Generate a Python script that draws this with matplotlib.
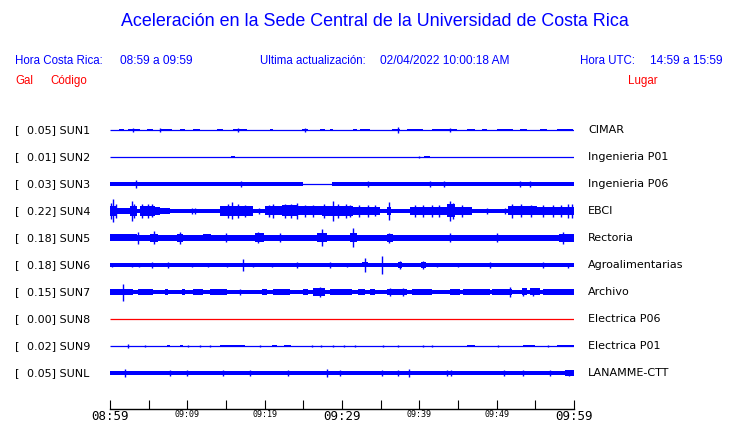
import matplotlib
matplotlib.use("Agg")
import matplotlib.pyplot as plt

# Estaciones (de arriba hacia abajo)
codes = ["SUN1", "SUN2", "SUN3", "SUN4", "SUN5", "SUN6", "SUN7", "SUN8", "SUN9", "SUNL"]
gal = [0.05, 0.01, 0.03, 0.22, 0.18, 0.18, 0.15, 0.00, 0.02, 0.05]
places = ["CIMAR", "Ingenieria P01", "Ingenieria P06", "EBCI", "Rectoria",
          "Agroalimentarias", "Archivo", "Electrica P06", "Electrica P01", "LANAMME-CTT"]
trace_colors = ["blue"] * 7 + ["red"] + ["blue"] * 2

# semi-amplitud de fondo (px) de cada traza
base_amp = [0.6, 0.5, 2.0, 2.0, 2.8, 1.7, 2.0, 0.5, 0.6, 2.1]

# tiempo en minutos desde las 08:59
tick_minutes = [0, 5, 10, 15, 20, 25, 30, 35, 40, 45, 50, 55, 60]
tick_labels = ["08:59", "", "09:09", "", "09:19", "", "09:29", "", "09:39", "", "09:49", "", "09:59"]

# rafagas (inicio_min, fin_min, semi-amplitud px) y picos (min, semi-amplitud px)
sun1_bursts = [(1.2, 1.8, 1.1), (2.3, 3.9, 1.2), (4.8, 5.6, 1.1), (6.5, 8.0, 1.2), (9.1, 9.7, 1.1),
               (10.7, 11.6, 1.1), (13.8, 14.6, 1.3), (15.9, 17.7, 1.3), (20.7, 21.1, 1.1),
               (24.8, 25.6, 1.2), (27.2, 27.8, 1.1), (28.4, 28.8, 1.1), (31.4, 31.9, 1.1),
               (32.3, 33.6, 1.1), (36.5, 37.5, 1.2), (38.4, 40.5, 1.1), (41.6, 44.9, 1.2),
               (46.2, 47.2, 1.1), (48.1, 48.7, 1.1), (50.0, 52.1, 1.2), (53.0, 53.9, 1.1),
               (55.6, 56.5, 1.1), (57.8, 59.9, 1.2)]
sun1_spikes = [(6.5, 1.8), (37.2, 3.2), (16.5, 1.8), (44.0, 1.6), (3.0, 1.6), (25.2, 1.6)]

sun2_bursts = [(15.7, 16.1, 1.3), (40.6, 41.4, 0.9)]
sun2_spikes = [(40.0, 1.0)]

sun3_gap = (25.0, 28.7)
sun3_bursts = []
sun3_spikes = [(3.4, 3.8), (16.9, 2.6), (33.4, 2.6), (41.4, 3.2), (43.2, 3.2), (53.0, 2.8), (54.3, 2.8)]

sun4_bursts = [(0.0, 0.9, 5.0), (0.9, 2.6, 3.0), (2.6, 3.5, 5.0), (3.9, 5.8, 5.0), (5.8, 6.5, 4.0),
               (6.5, 7.8, 2.8), (14.2, 18.5, 5.0), (20.0, 22.2, 4.5), (22.2, 24.3, 5.5),
               (24.3, 27.4, 4.5), (27.4, 31.4, 5.0), (31.4, 34.9, 4.0), (35.8, 36.4, 4.0),
               (38.8, 43.6, 4.0), (43.6, 44.6, 6.5), (44.6, 46.8, 4.0), (51.5, 55.2, 4.5),
               (55.2, 60.0, 4.0)]
sun4_spikes = [(0.1, 8.0), (0.4, 11.5), (0.8, 7.0), (2.8, 10.0), (3.1, 7.0), (4.2, 7.0), (4.9, 7.0),
               (5.4, 6.5), (10.6, 3.0), (11.0, 3.0), (15.3, 7.0), (15.8, 8.5), (16.5, 7.0),
               (17.4, 6.0), (19.3, 3.0), (20.6, 6.0), (21.1, 7.0), (22.6, 7.0), (23.4, 7.0),
               (24.2, 8.0), (25.2, 6.0), (26.3, 6.0), (27.7, 7.0), (28.8, 10.0), (29.5, 7.0),
               (30.5, 7.0), (31.0, 6.0), (32.2, 6.0), (33.4, 6.0), (34.3, 5.5), (36.1, 9.0),
               (39.5, 6.0), (40.5, 6.0), (41.6, 6.0), (42.6, 6.0), (44.0, 10.0), (44.3, 8.0),
               (45.5, 6.0), (48.7, 3.0), (51.1, 3.0), (52.0, 7.0), (53.2, 6.5), (54.4, 6.0),
               (56.0, 6.0), (57.3, 6.0), (58.3, 6.0), (59.2, 7.0), (59.8, 7.0)]

sun5_bursts = [(0.0, 3.5, 3.5), (5.2, 6.2, 4.0), (8.6, 9.5, 4.0), (12.0, 13.0, 3.5),
               (18.7, 19.9, 4.5), (26.8, 28.0, 4.5), (31.0, 32.0, 4.5), (35.8, 36.6, 4.0),
               (58.0, 60.0, 4.0)]
sun5_spikes = [(3.6, 6.0), (5.7, 6.5), (9.0, 6.0), (15.0, 4.5), (19.1, 5.5), (22.0, 4.5),
               (27.4, 8.5), (31.4, 9.5), (36.1, 5.0), (44.0, 4.5), (50.0, 4.5), (58.6, 6.0)]

sun6_bursts = [(2.2, 2.6, 2.4), (10.5, 11.0, 2.4), (32.6, 33.3, 2.5), (37.3, 37.8, 2.6),
               (40.2, 40.8, 2.6), (45.6, 46.0, 2.3), (49.0, 49.4, 2.4), (58.0, 59.9, 2.4)]
sun6_spikes = [(0.2, 2.2), (2.8, 2.2), (3.8, 2.2), (5.4, 3.2), (7.5, 3.2), (10.6, 2.2),
               (12.7, 2.2), (15.1, 2.2), (17.2, 5.7), (18.5, 2.2), (20.9, 2.2), (24.2, 3.2),
               (28.4, 3.2), (30.6, 2.2), (33.0, 7.0), (35.2, 9.0), (37.5, 4.0), (40.5, 4.0),
               (42.3, 2.2), (45.0, 2.2), (49.1, 3.0), (56.0, 3.0), (59.2, 2.5)]

sun7_bursts = [(0.0, 3.0, 3.0), (3.6, 5.6, 3.0), (7.1, 7.5, 3.0), (9.3, 9.7, 3.0),
               (10.7, 12.0, 3.0), (12.9, 15.1, 3.0), (19.6, 20.3, 3.0), (21.1, 23.3, 3.0),
               (25.0, 25.6, 3.0), (26.2, 27.8, 4.0), (28.4, 30.4, 3.0), (30.4, 31.3, 2.8),
               (32.1, 33.0, 3.0), (33.6, 34.3, 3.0), (35.8, 38.4, 3.0), (39.0, 41.6, 3.0),
               (44.0, 45.3, 3.0), (45.6, 49.1, 3.0), (49.4, 52.0, 3.0), (53.3, 53.9, 3.5),
               (54.3, 55.6, 3.5), (56.0, 60.0, 3.0)]
sun7_spikes = [(1.7, 8.5), (27.2, 5.0), (16.8, 3.0), (36.2, 4.0), (37.9, 4.0), (51.7, 5.0),
               (53.4, 4.0), (54.7, 4.0)]

sun8_bursts = []
sun8_spikes = []

sun9_bursts = [(7.4, 7.8, 1.4), (9.0, 9.4, 1.3), (14.2, 17.5, 1.3), (20.9, 21.6, 1.3),
               (22.5, 23.4, 1.2), (46.2, 47.2, 1.4), (53.4, 55.0, 1.3), (57.8, 60.0, 1.4)]
sun9_spikes = [(2.3, 1.6), (4.5, 1.2), (10.1, 1.3), (11.6, 1.3), (12.9, 1.3), (19.4, 1.3),
               (26.1, 1.3), (27.3, 1.3), (28.9, 1.2), (30.2, 1.2), (31.7, 1.2), (35.3, 1.3),
               (37.2, 1.3), (40.5, 1.4), (41.7, 1.3), (50.2, 1.2), (56.7, 1.3)]

sunl_bursts = [(58.8, 60.0, 3.0)]
sunl_spikes = [(1.9, 4.0), (7.8, 2.6), (10.0, 2.6), (14.6, 2.6), (18.1, 2.6), (23.0, 2.6),
               (28.1, 3.6), (29.7, 2.6), (35.2, 2.6), (37.2, 2.6), (38.7, 3.6), (43.6, 2.6),
               (44.1, 2.6), (51.0, 2.6), (53.4, 2.6), (56.9, 2.6), (59.4, 3.0)]

bursts = [sun1_bursts, sun2_bursts, sun3_bursts, sun4_bursts, sun5_bursts,
          sun6_bursts, sun7_bursts, sun8_bursts, sun9_bursts, sunl_bursts]
spikes = [sun1_spikes, sun2_spikes, sun3_spikes, sun4_spikes, sun5_spikes,
          sun6_spikes, sun7_spikes, sun8_spikes, sun9_spikes, sunl_spikes]

W, H = 740, 423
ROW = 27  # px entre trazas
blue = "#0000ff"
red = "#ff0000"

fig = plt.figure(figsize=(W / 100, H / 100), dpi=100)


def ftext(x, y, s, **kw):
    # texto en coordenadas de pixel de la figura
    fig.text(x / W, 1 - y / H, s, **kw)


# encabezado
head = ["Liberation Sans", "DejaVu Sans"]
ftext(375, 22, "Aceleración en la Sede Central de la Universidad de Costa Rica",
      ha="center", va="center", fontsize=12.9, color=blue, family=head)
ftext(15, 61, "Hora Costa Rica:", va="center", fontsize=8.3, color=blue, family=head)
ftext(120, 61, "08:59 a 09:59", va="center", fontsize=8.6, color=blue, family=head)
ftext(260, 61, "Ultima actualización:", va="center", fontsize=8.3, color=blue, family=head)
ftext(380, 61, "02/04/2022 10:00:18 AM", va="center", fontsize=8.6, color=blue, family=head)
ftext(580, 61, "Hora UTC:", va="center", fontsize=8.3, color=blue, family=head)
ftext(650, 61, "14:59 a 15:59", va="center", fontsize=8.6, color=blue, family=head)
ftext(15, 81, "Gal", va="center", fontsize=8.3, color=red, family=head)
ftext(50, 81, "Código", va="center", fontsize=8.3, color=red, family=head)
ftext(628, 81, "Lugar", va="center", fontsize=8.3, color=red, family=head)

# area de trazas
ax = fig.add_axes([110 / W, 1 - 409 / H, 464 / W, 294 / H])
ax.set_xlim(0, 60)
ax.set_ylim(409 - 130, 115 - 130)
for s in ["top", "left", "right"]:
    ax.spines[s].set_visible(False)
ax.spines["bottom"].set_linewidth(1.0)
ax.set_yticks([])
ax.set_xticks(tick_minutes)
ax.set_xticklabels(tick_labels, family="DejaVu Sans Mono")
ax.tick_params(axis="x", direction="in", length=6.5, width=0.8, pad=0.5)
for lab in ax.get_xticklabels():
    if lab.get_text() in ("08:59", "09:29", "09:59"):
        lab.set_fontsize(9)
    else:
        lab.set_fontsize(6)

for i in range(len(codes)):
    yc = i * ROW
    col = blue if trace_colors[i] == "blue" else red
    # linea central
    ax.plot([0, 60], [yc, yc], color=col, lw=0.9, solid_capstyle="butt")
    # banda de fondo
    b = base_amp[i]
    if codes[i] == "SUN3":
        ax.fill_between([0, sun3_gap[0]], yc - b, yc + b, color=col, lw=0)
        ax.fill_between([sun3_gap[1], 60], yc - b, yc + b, color=col, lw=0)
    elif b > 1:
        ax.fill_between([0, 60], yc - b, yc + b, color=col, lw=0)
    for t0, t1, a in bursts[i]:
        ax.fill_between([t0, t1], yc - a, yc + a, color=col, lw=0)
    for t, a in spikes[i]:
        ax.vlines(t, yc - a, yc + a, color=col, lw=1.0)

    # etiquetas
    ftext(15, 130 + yc, "[", va="center", fontsize=8, color="black")
    ftext(27, 130 + yc, "%.2f] %s" % (gal[i], codes[i]), va="center", fontsize=8, color="black")
    ftext(588, 130 + yc, places[i], va="center", fontsize=8, color="black")

fig.savefig("out.png", dpi=100)
